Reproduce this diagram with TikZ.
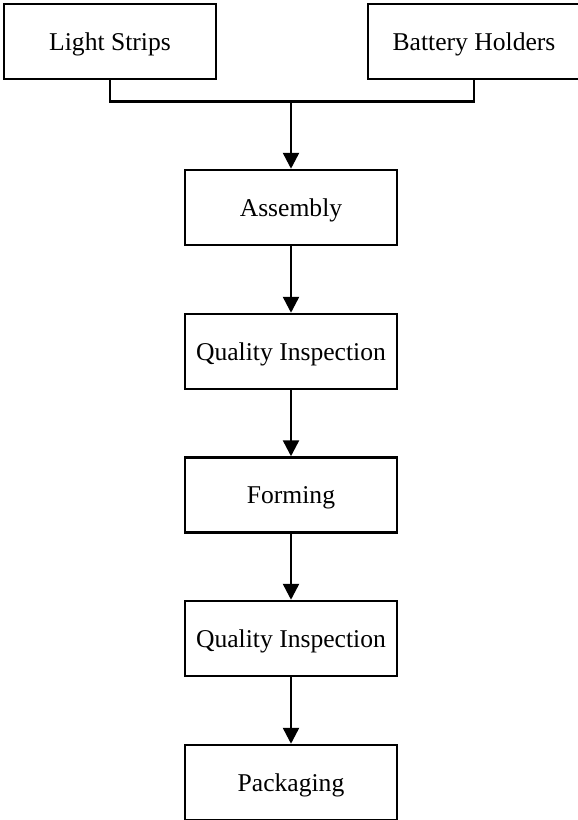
\documentclass[tikz,border=0pt]{standalone}
\usepackage{fontspec}
\setmainfont{Liberation Serif}
\usetikzlibrary{arrows.meta}
\begin{document}
\begin{tikzpicture}[x=0.5pt,y=-0.5pt,
  procbox/.style={draw=black,line width=1.25pt,fill=white,minimum width=106pt,minimum height=37.5pt,inner sep=0pt,
    text height=10.6pt,text depth=2pt,
    font=\fontsize{12.8pt}{15pt}\selectfont},
  link/.style={line width=1.25pt,draw=black},
  flow/.style={link,-{Triangle[length=8pt,width=8pt]}}]
  \path[use as bounding box] (0,0) rectangle (578,820);
  \clip (0,0) rectangle (578,820);
  \fill[white] (0,0) rectangle (578,820);

  % input parts
  \node[procbox] (ls) at (110,41.5) {Light Strips};
  \node[procbox] (bh) at (474,41.5) {Battery Holders};

  % production steps
  \node[procbox] (asm) at (291,207.5) {Assembly};
  \node[procbox] (qi1) at (291,351.5) {Quality Inspection};
  \node[procbox] (frm) at (291,495) {Forming};
  \node[procbox] (qi2) at (291,638.5) {Quality Inspection};
  \node[procbox] (pkg) at (291,782.5) {Packaging};

  % merge of the two inputs
  \coordinate (j) at (291,101.5);
  \draw[link] (ls.south) |- (j) -| (bh.south);
  \draw[flow] (j) -- (asm.north);

  % flow between steps
  \draw[flow] (asm) -- (qi1);
  \draw[flow] (qi1) -- (frm);
  \draw[flow] (frm) -- (qi2);
  \draw[flow] (qi2) -- (pkg);
\end{tikzpicture}
\end{document}
